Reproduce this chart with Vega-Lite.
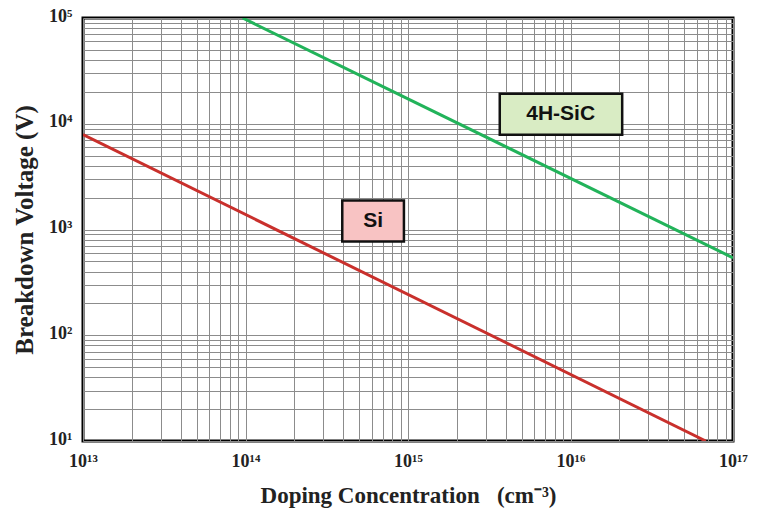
{
  "$schema": "https://vega.github.io/schema/vega-lite/v6.json",
  "width": 650,
  "height": 423,
  "autosize": {"type": "none"},
  "padding": {"left": 83, "top": 18, "right": 27, "bottom": 73},
  "background": "white",
  "config": {
    "view": {"stroke": "black", "strokeWidth": 3},
    "axis": {
      "domain": false,
      "ticks": false,
      "gridColor": "#8c8c8c",
      "gridWidth": 1,
      "gridOpacity": 1,
      "labelFont": "Liberation Serif",
      "labelFontWeight": "bold",
      "labelFontSize": 18,
      "labelColor": "#222",
      "titleFont": "Liberation Serif",
      "titleFontWeight": "bold",
      "titleColor": "#222"
    }
  },
  "layer": [
    {
      "data": {"values": [
        {"series": "Si", "n": 1e13, "bv": 7900},
        {"series": "Si", "n": 6.8e16, "bv": 10},
        {"series": "4H-SiC", "n": 9.6e13, "bv": 100000},
        {"series": "4H-SiC", "n": 1e17, "bv": 540}
      ]},
      "mark": {"type": "line", "strokeWidth": 3, "clip": true},
      "encoding": {
        "x": {
          "field": "n", "type": "quantitative",
          "scale": {"type": "log", "domain": [1e13, 1e17], "nice": false},
          "axis": {
            "title": "Doping Concentration\u00a0\u00a0\u00a0(cm⁻³)",
            "titleFontSize": 23,
            "titlePadding": 14,
            "labelPadding": 11,
            "labelFlush": false,
            "labelOverlap": false,
            "values": [1e13,2e13,3e13,4e13,5e13,6e13,7e13,8e13,9e13,1e14,2e14,3e14,4e14,5e14,6e14,7e14,8e14,9e14,1e15,2e15,3e15,4e15,5e15,6e15,7e15,8e15,9e15,1e16,2e16,3e16,4e16,5e16,6e16,7e16,8e16,9e16,1e17],
            "labelExpr": "datum.value == 1e13 ? '10¹³' : datum.value == 1e14 ? '10¹⁴' : datum.value == 1e15 ? '10¹⁵' : datum.value == 1e16 ? '10¹⁶' : datum.value == 1e17 ? '10¹⁷' : ''"
          }
        },
        "y": {
          "field": "bv", "type": "quantitative",
          "scale": {"type": "log", "domain": [10, 100000], "nice": false},
          "axis": {
            "title": "Breakdown Voltage (V)",
            "titleFontSize": 25,
            "titlePadding": 11,
            "labelPadding": 11,
            "labelFlush": false,
            "labelOverlap": false,
            "labelOffset": -2,
            "values": [10,20,30,40,50,60,70,80,90,100,200,300,400,500,600,700,800,900,1000,2000,3000,4000,5000,6000,7000,8000,9000,10000,20000,30000,40000,50000,60000,70000,80000,90000,100000],
            "labelExpr": "datum.value == 10 ? '10¹' : datum.value == 100 ? '10²' : datum.value == 1000 ? '10³' : datum.value == 10000 ? '10⁴' : datum.value == 100000 ? '10⁵' : ''"
          }
        },
        "color": {
          "field": "series", "type": "nominal",
          "scale": {"domain": ["Si", "4H-SiC"], "range": ["#c9302c", "#22b35a"]},
          "legend": null
        }
      }
    },
    {
      "data": {"values": [
        {"label": "Si", "x1": 3.94e14, "x2": 9.44e14, "y1": 1880, "y2": 771, "tx": 6.1e14, "ty": 1216, "fill": "#f8c3c3"},
        {"label": "4H-SiC", "x1": 3.67e15, "x2": 2.08e16, "y1": 19200, "y2": 7870, "tx": 8.7e15, "ty": 12400, "fill": "#d9ecc4"}
      ]},
      "layer": [
        {
          "mark": {"type": "rect", "stroke": "#111", "strokeWidth": 2.5},
          "encoding": {
            "x": {"field": "x1", "type": "quantitative"},
            "x2": {"field": "x2"},
            "y": {"field": "y1", "type": "quantitative"},
            "y2": {"field": "y2"},
            "fill": {"field": "fill", "type": "nominal", "scale": null}
          }
        },
        {
          "mark": {"type": "text", "font": "Liberation Sans", "fontWeight": "bold", "fontSize": 21, "color": "#111", "baseline": "middle", "align": "center"},
          "encoding": {
            "x": {"field": "tx", "type": "quantitative"},
            "y": {"field": "ty", "type": "quantitative"},
            "text": {"field": "label"}
          }
        }
      ]
    }
  ]
}
